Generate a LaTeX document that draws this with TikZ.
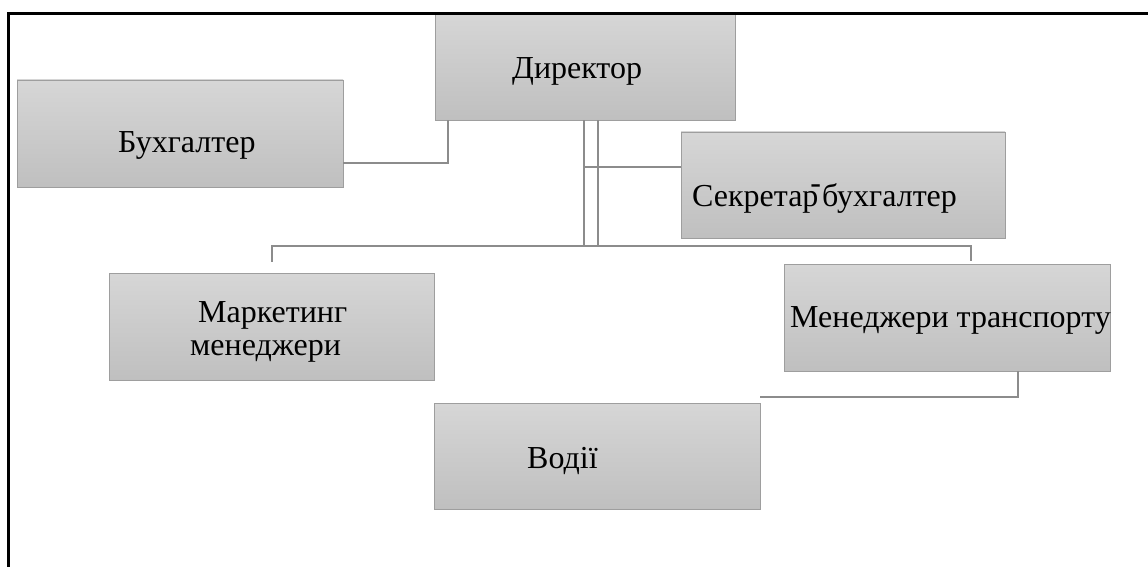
\documentclass[tikz,border=0pt]{standalone}
\usepackage{fontspec}
\setmainfont{Liberation Serif}
\begin{document}
\begin{tikzpicture}[x=1pt,y=-1pt,
  box/.style={draw=black!38, line width=0.8pt, top color=black!16, bottom color=black!25,
              inner sep=0pt, minimum height=107pt},
  lbl/.style={anchor=base west, inner sep=0pt, font=\fontsize{32}{36}\selectfont},
  conn/.style={draw=black!45, line width=2pt}]
\useasboundingbox (0,0) rectangle (1148,567);
\clip (0,0) rectangle (1148,567);

% boxes
\node[box, minimum width=300pt] (dir) at (585,66.5) {};
\node[box, minimum width=326pt] (buh) at (180,133.5) {};
\node[box, minimum width=324pt, minimum height=106pt] (sec) at (843,185) {};
\node[box, minimum width=325pt] (mkt) at (271.5,326.5) {};
\node[box, minimum width=326pt] (trn) at (947,317.5) {};
\node[box, minimum width=326pt, minimum height=106pt] (vod) at (597,456) {};

% junctions under the director
\coordinate (jl) at (584,246);
\coordinate (jr) at (598,246);

% connectors
\draw[conn] ([yshift=24pt]buh.south east) -| ([xshift=13pt]dir.south west);
\draw[conn] ([xshift=-1pt]dir.south) -- (jl) -- (jr) -- ([xshift=13pt]dir.south);
\draw[conn] ([yshift=18pt]sec.west) -- ([yshift=18pt]sec.west -| jl);
\draw[conn] (jl) -| ([yshift=11pt]mkt.north);
\draw[conn] (jr) -| ([xshift=24pt,yshift=3pt]trn.north);
\draw[conn] ([xshift=71pt]trn.south) |- ([yshift=6pt]vod.north east);

% labels
\node[lbl] (tdir) at (512,79) {Директор};
\node[lbl] (tbuh) at (118,152) {Бухгалтер};
\node[lbl] (tsec) at (692,206) {Секретар\kern-8pt\raisebox{13pt}{-}\kern1pt бухгалтер};
\node[lbl] (tmkt1) at (198,322) {Маркетинг};
\node[lbl] (tmkt2) at (190,355) {менеджери};
\node[lbl] (ttrn) at (790,327) {Менеджери транспорту};
\node[lbl] (tvod) at (527,468) {Водії};

% page frame
\draw[line width=3pt, black] (8.5,600) -- (8.5,13.5) -- (1200,13.5);
\end{tikzpicture}
\end{document}
